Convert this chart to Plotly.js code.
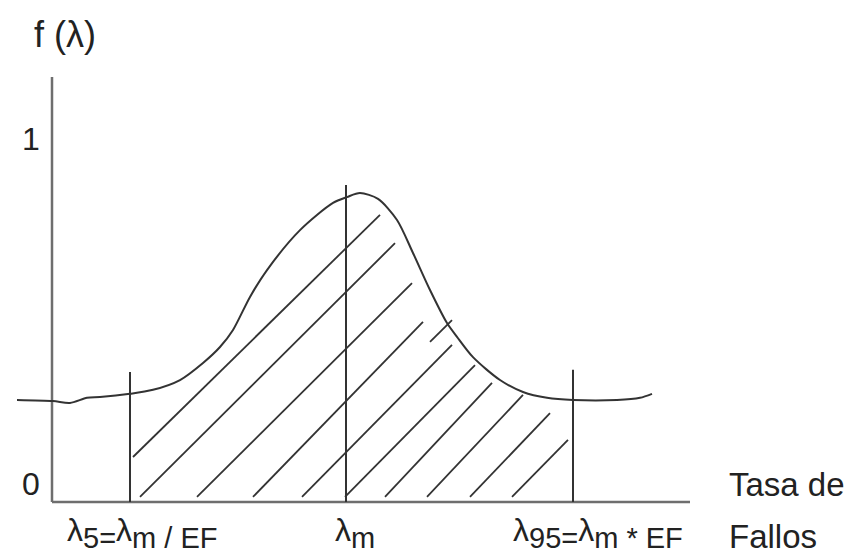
<!DOCTYPE html>
<html>
<head>
<meta charset="utf-8">
<script src="https://cdn.plot.ly/plotly-3.0.1.min.js"></script>
<style>html,body{margin:0;padding:0;background:#fff;}#chart{width:858px;height:558px;}</style>
</head>
<body>
<div id="chart"></div>
<script>
// Density curve f(λ): x = position along the failure-rate axis, y = f(λ) (0..1 scale)
const curveX = [17, 53, 70, 87, 100, 130, 153, 180, 203, 220, 233, 250, 267, 300, 333, 347, 360, 378, 397, 413, 430, 447, 457, 473, 500, 523, 547, 573, 617, 640, 652];
const curveY = [0.281, 0.278, 0.273, 0.287, 0.289, 0.298, 0.309, 0.336, 0.383, 0.427, 0.474, 0.565, 0.639, 0.749, 0.824, 0.840, 0.851, 0.835, 0.777, 0.686, 0.584, 0.493, 0.455, 0.399, 0.336, 0.303, 0.287, 0.281, 0.281, 0.287, 0.298];

// Hatch segments (start -> end)
const hatchX0 = [133, 140, 197, 253, 302, 345, 385, 427, 470, 512, 430];
const hatchY0 = [0.124, 0.014, 0.014, 0.014, 0.014, 0.014, 0.014, 0.014, 0.014, 0.014, 0.441];
const hatchX1 = [380, 395, 412, 423, 452, 475, 492, 523, 550, 568, 452];
const hatchY1 = [0.791, 0.713, 0.603, 0.496, 0.433, 0.377, 0.328, 0.295, 0.245, 0.171, 0.501];

// Marker verticals: λ5, λm, λ95
const markerNames = ["λ5", "λm", "λ95"];
const markerX = [130, 346, 573];
const markerTop = [0.358, 0.873, 0.364];

// Axes
const axisOriginX = 52;
const axisEndX = 690;
const axisTopY = 1.171;

// Labels
const yTickLabels = ["0", "1"];
const yTickVals = [0.05, 1.0];
const subA = '<sub><span style="font-size:29px">';
const subB = '</span></sub>';
const xLabels = [
  "λ" + subA + "5=" + subB + "λ" + subA + "m / EF" + subB,
  "λ" + subA + "m" + subB,
  "λ" + subA + "95=" + subB + "λ" + subA + "m * EF" + subB
];
const xLabelPos = [142, 355, 598];
const yTitle = "f (λ)";
const xTitleLines = ["Tasa de", "Fallos"];

const lineCol = "#333333";
const axisCol = "#6e6e6e";
const font = "Liberation Sans, Arial, sans-serif";

const traces = [];

// axes as lines
traces.push({x: [axisOriginX, axisOriginX], y: [0, axisTopY], mode: "lines", line: {color: axisCol, width: 2.5}, hoverinfo: "skip"});
traces.push({x: [axisOriginX, axisEndX], y: [0, 0], mode: "lines", line: {color: axisCol, width: 2.5}, hoverinfo: "skip"});

// hatch
const hx = [], hy = [];
for (let i = 0; i < hatchX0.length; i++) {
  hx.push(hatchX0[i], hatchX1[i], null);
  hy.push(hatchY0[i], hatchY1[i], null);
}
traces.push({x: hx, y: hy, mode: "lines", line: {color: lineCol, width: 1.8}, hoverinfo: "skip"});

// verticals
const vx = [], vy = [];
for (let i = 0; i < markerX.length; i++) {
  vx.push(markerX[i], markerX[i], null);
  vy.push(0, markerTop[i], null);
}
traces.push({x: vx, y: vy, mode: "lines", line: {color: lineCol, width: 2}, hoverinfo: "skip"});

// curve
traces.push({x: curveX, y: curveY, mode: "lines", line: {color: lineCol, width: 2, shape: "spline", smoothing: 0.8}, hoverinfo: "skip"});

const annotations = [];
const txtCol = "#222222";
annotations.push({x: 65, y: (502 - 34) / 363, xref: "x", yref: "y", text: yTitle, showarrow: false, font: {family: font, size: 36, color: txtCol}});
for (let i = 0; i < yTickLabels.length; i++) {
  annotations.push({x: 31, y: yTickVals[i], xref: "x", yref: "y", text: yTickLabels[i], showarrow: false, font: {family: font, size: 32, color: txtCol}});
}
for (let i = 0; i < xLabels.length; i++) {
  annotations.push({x: xLabelPos[i], y: (502 - 533) / 363, xref: "x", yref: "y", text: xLabels[i], showarrow: false, font: {family: font, size: 32, color: txtCol}});
}
annotations.push({x: 727, y: 0.047, xref: "x", yref: "y", xanchor: "left", text: xTitleLines[0], showarrow: false, font: {family: font, size: 33, color: txtCol}});
annotations.push({x: 727, y: -0.096, xref: "x", yref: "y", xanchor: "left", text: xTitleLines[1], showarrow: false, font: {family: font, size: 33, color: txtCol}});

const layout = {
  width: 858, height: 558,
  margin: {l: 0, r: 0, t: 0, b: 0},
  paper_bgcolor: "#ffffff", plot_bgcolor: "#ffffff",
  showlegend: false,
  xaxis: {range: [0, 858], visible: false, fixedrange: true},
  yaxis: {range: [(502 - 558) / 363, 502 / 363], visible: false, fixedrange: true},
  annotations: annotations
};

Plotly.newPlot("chart", traces, layout, {displayModeBar: false, staticPlot: true});
</script>
</body>
</html>
